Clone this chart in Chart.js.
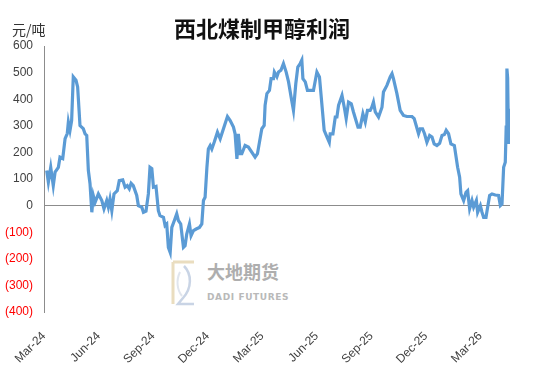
<!DOCTYPE html>
<html>
<head>
<meta charset="utf-8">
<script src="https://cdn.jsdelivr.net/npm/chart.js"></script>
<style>
  html, body { margin: 0; padding: 0; background: #fff; }
  #wrap { position: relative; width: 550px; height: 367px; overflow: hidden; }
  #chart { position: absolute; left: 0; top: 0; z-index: 2; }
  .title {
    position: absolute; left: 166px; top: 12px; width: 192px; text-align: center;
    font-family: "Noto Sans CJK SC", sans-serif; font-size: 22px; font-weight: 700;
    color: #111; z-index: 3; line-height: 30px;
  }
  .unit {
    position: absolute; left: 12px; top: 20px; line-height: 18px;
    font-family: "Noto Sans CJK SC", sans-serif; font-size: 14px; color: #333; z-index: 3;
  }
  .mark { position: absolute; left: 170px; top: 258px; z-index: 1; opacity: 0.8; }
  .mark .cn {
    position: absolute; left: 37px; top: 1px; white-space: nowrap; line-height: 24px;
    font-family: "Noto Sans CJK SC", sans-serif; font-size: 18px; font-weight: 700; color: #9a9a9a;
  }
  .mark .en {
    position: absolute; left: 37px; top: 33px; white-space: nowrap; line-height: 12px;
    font-family: "DejaVu Sans", sans-serif; font-size: 9px; font-weight: 700; color: #a8a8a8;
    letter-spacing: 0.6px;
  }
</style>
</head>
<body>
<div id="wrap">
  <div class="title">西北煤制甲醇利润</div>
  <div class="unit">元/吨</div>
  <div class="mark">
    <svg width="28" height="50" viewBox="0 0 28 50">
      <path d="M3 4 H24 M3 4 V46" stroke="#e6d5b0" stroke-width="3" fill="none"/>
      <path d="M14 8 C22 16 22 30 13 40 L8 46 H24" stroke="#bccadf" stroke-width="2.5" fill="none"/>
      <path d="M10 14 C6 22 7 32 12 38" stroke="#d9dfe9" stroke-width="2" fill="none"/>
    </svg>
    <div class="cn">大地期货</div>
    <div class="en">DADI FUTURES</div>
  </div>
  <canvas id="chart" width="550" height="367"></canvas>
</div>
<script>
// x = months since 1 Mar 2024
const monthsSinceMar24 = [
  0.15, 0.24, 0.37, 0.51, 0.61, 0.79, 0.88, 1.03, 1.16, 1.28, 1.34, 1.43, 1.52, 1.61, 1.76, 1.85,
  1.98, 2.16, 2.26, 2.35, 2.44, 2.53, 2.63, 2.71, 2.81, 2.99, 3.18, 3.30, 3.45, 3.54, 3.63, 3.73,
  3.85, 4.03, 4.14, 4.33, 4.46, 4.58, 4.69, 4.79, 4.91, 5.10, 5.19, 5.38, 5.47, 5.61, 5.74, 5.83,
  5.93, 6.02, 6.16, 6.29, 6.38, 6.57, 6.66, 6.75, 6.84, 6.94, 7.03, 7.17, 7.30, 7.39, 7.52, 7.67,
  7.76, 7.85, 8.00, 8.09, 8.22, 8.37, 8.55, 8.68, 8.77, 8.86, 8.96, 9.04, 9.14, 9.23, 9.36, 9.54,
  9.69, 9.87, 10.09, 10.24, 10.42, 10.51, 10.61, 10.69, 10.79, 10.88, 11.06, 11.24, 11.61, 11.74,
  11.85, 11.98, 12.11, 12.16, 12.26, 12.40, 12.49, 12.62, 12.67, 12.81, 12.90, 13.03, 13.17, 13.32,
  13.45, 13.59, 13.72, 13.85, 13.96, 14.09, 14.18, 14.24, 14.37, 14.49, 14.82, 15.01, 15.15, 15.28,
  15.41, 15.56, 15.69, 15.74, 15.89, 16.02, 16.11, 16.20, 16.39, 16.53, 16.62, 16.75, 16.90, 17.02,
  17.16, 17.27, 17.39, 17.54, 17.67, 17.79, 17.94, 18.03, 18.12, 18.22, 18.40, 18.59, 18.67, 18.86,
  19.04, 19.14, 19.22, 19.41, 19.59, 19.77, 19.96, 20.24, 20.36, 20.47, 20.60, 20.69, 20.82, 20.93,
  21.06, 21.21, 21.34, 21.46, 21.61, 21.76, 21.89, 22.02, 22.12, 22.25, 22.38, 22.57, 22.75, 22.86,
  22.93, 23.08, 23.21, 23.30, 23.41, 23.54, 23.63, 23.78, 23.85, 24.00, 24.09, 24.18, 24.31, 24.40,
  24.51, 24.64, 24.82, 25.00, 25.10, 25.19, 25.28, 25.37, 25.42, 25.46, 25.50, 25.55, 25.58, 25.63
];

const profit = [
  132, 88, 144, 75, 126, 144, 182, 177, 252, 271, 314, 283, 320, 484, 471, 446,
  301, 289, 270, 264, 132, 83, -25, 38, 12, 44, 19, -12, 19, -6, 25, -19,
  44, 56, 94, 97, 69, 75, 63, 84, 75, 38, 0, -6, -25, -21, 44, 144,
  139, 69, 72, -19, -38, -44, -75, -69, -157, -176, -82, -56, -31, -56, -69, -157,
  -151, -107, -69, -113, -94, -88, -82, -69, 19, 31, 144, 213, 226, 213, 238, 276,
  251, 289, 335, 320, 295, 270, 176, 270, 195, 195, 226, 220, 182, 195,
  238, 289, 301, 377, 421, 433, 477, 477, 502, 484, 502, 509, 534, 502,
  465, 408, 358, 459, 521, 534, 547, 477, 465, 433, 433, 502, 484, 383,
  283, 258, 238, 270, 270, 333, 333, 377, 414, 364, 327, 389, 383, 352,
  320, 295, 295, 345, 314, 358, 358, 370, 389, 352, 333, 370, 427, 452,
  484, 496, 477, 421, 358, 339, 335, 335, 327, 301, 270, 289, 289, 270,
  238, 264, 258, 232, 226, 234, 264, 267, 283, 270, 232, 226, 144, 107,
  44, 19, 50, 56, -12, 19, -6, 19, -25, 0, -25, -44, -44, -6,
  38, 44, 40, 38, 0, 6, 144, 163, 295, 515, 480, 232, 364, 232
];

const tickLabels = ["Mar-24", "Jun-24", "Sep-24", "Dec-24", "Mar-25", "Jun-25", "Sep-25", "Dec-25", "Mar-26"];

const points = monthsSinceMar24.map((m, i) => ({ x: m, y: profit[i] }));

new Chart(document.getElementById("chart"), {
  type: "line",
  data: {
    datasets: [{
      label: "西北煤制甲醇利润",
      data: points,
      borderColor: "#5B9BD5",
      borderWidth: 3.2,
      pointRadius: 0,
      tension: 0,
      fill: false
    }]
  },
  options: {
    responsive: false,
    animation: false,
    layout: { padding: { top: 46, right: 40, left: 0, bottom: 0 } },
    plugins: { legend: { display: false }, tooltip: { enabled: false } },
    scales: {
      x: {
        type: "linear",
        min: 0,
        max: 25.63,
        afterFit: (scale) => { scale.height = 55; },
        grid: { display: false },
        border: { display: false },
        ticks: {
          stepSize: 3,
          includeBounds: false,
          autoSkip: false,
          maxRotation: 45,
          minRotation: 45,
          padding: 9,
          color: "#404040",
          font: { family: "Liberation Sans", size: 12 },
          callback: (v) => (v % 3 === 0 ? tickLabels[v / 3] : "")
        }
      },
      y: {
        min: -400,
        max: 600,
        afterFit: (scale) => { scale.width = 44; },
        border: { display: true, color: "#8c8c8c", width: 1 },
        grid: {
          drawTicks: false,
          color: (ctx) => (ctx.tick && ctx.tick.value === 0 ? "#8c8c8c" : "rgba(0,0,0,0)"),
          lineWidth: 1
        },
        ticks: {
          stepSize: 100,
          autoSkip: false,
          padding: 11,
          color: (ctx) => (ctx.tick.value < 0 ? "#ff0000" : "#404040"),
          font: { family: "Liberation Sans", size: 12 },
          callback: (v) => (v < 0 ? "(" + (-v) + ")" : String(v))
        }
      }
    }
  }
});
</script>
</body>
</html>
